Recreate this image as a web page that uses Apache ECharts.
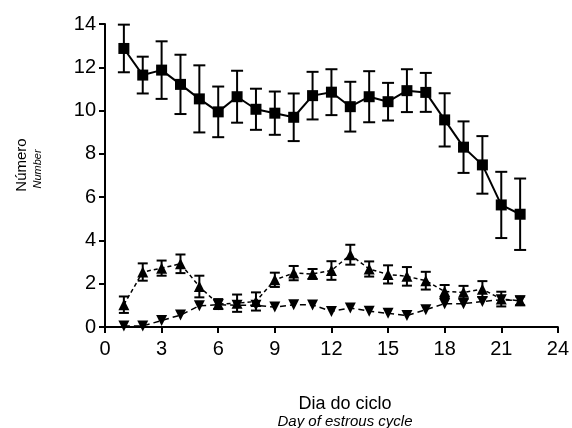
<!DOCTYPE html>
<html>
<head>
<meta charset="utf-8">
<script src="https://cdn.jsdelivr.net/npm/echarts@6/dist/echarts.min.js"></script>
<style>
html,body{margin:0;padding:0;background:#fff;}
#c{width:572px;height:428px;}
</style>
</head>
<body>
<div id="c"></div>
<script>
const days = [1,2,3,4,5,6,7,8,9,10,11,12,13,14,15,16,17,18,19,20,21,22];
const squareMean = [12.87,11.64,11.87,11.21,10.54,9.94,10.64,10.06,9.88,9.69,10.69,10.85,10.18,10.64,10.41,10.92,10.84,9.57,8.31,7.49,5.64,5.21];
const squareSem  = [1.10,0.85,1.33,1.37,1.55,1.17,1.20,0.95,1.00,1.10,1.10,1.06,1.15,1.18,0.87,0.99,0.90,1.23,1.19,1.33,1.53,1.65];
const upMean = [1.03,2.54,2.72,2.92,1.87,1.06,1.10,1.18,2.18,2.49,2.45,2.61,3.34,2.68,2.43,2.34,2.14,1.64,1.60,1.75,1.29,1.21];
const upSem  = [0.38,0.40,0.35,0.43,0.50,0.23,0.40,0.42,0.33,0.33,0.23,0.43,0.46,0.35,0.42,0.43,0.41,0.30,0.30,0.37,0.34,0.20];
const downMean = [0.05,0.05,0.30,0.55,0.98,1.03,1.00,1.00,0.92,1.03,1.02,0.72,0.88,0.73,0.63,0.53,0.80,1.08,1.08,1.18,1.26,1.21];
const xTicks = [0,3,6,9,12,15,18,21,24];
const yTicks = [0,2,4,6,8,10,12,14];

const FONT = "'Liberation Sans', Arial, sans-serif";

function pairs(m){ return days.map((d,i)=>[d,m[i]]); }
function errData(m,s){ return days.map((d,i)=>[d,m[i],s[i]]); }
function errSeries(m,s,cap,lw){
  return {
    type:'custom', z:3,
    data: errData(m,s),
    renderItem: function(params, api){
      const x = api.value(0), v = api.value(1), e = api.value(2);
      const top = api.coord([x, v+e]), bot = api.coord([x, v-e]);
      const st = {stroke:'#000', lineWidth:lw};
      return {type:'group', children:[
        {type:'line', shape:{x1:top[0],y1:top[1],x2:bot[0],y2:bot[1]}, style:st},
        {type:'line', shape:{x1:top[0]-cap,y1:top[1],x2:top[0]+cap,y2:top[1]}, style:st},
        {type:'line', shape:{x1:bot[0]-cap,y1:bot[1],x2:bot[0]+cap,y2:bot[1]}, style:st}
      ]};
    }
  };
}

const chart = echarts.init(document.getElementById('c'), null, {renderer:'canvas'});
chart.setOption({
  animation:false,
  backgroundColor:'#fff',
  grid:{left:105, right:13, top:24, bottom:101},
  xAxis:{
    type:'value', min:0, max:24, interval:3,
    axisLine:{show:true, lineStyle:{color:'#000', width:2}},
    axisTick:{show:true, length:6, lineStyle:{color:'#000', width:2}},
    axisLabel:{color:'#000', fontSize:20, fontFamily:FONT, margin:12,
      formatter:function(v){ return xTicks.indexOf(v)>=0 ? String(v) : ''; }},
    splitLine:{show:false}
  },
  yAxis:{
    type:'value', min:0, max:14, interval:2,
    axisLine:{show:true, lineStyle:{color:'#000', width:2}},
    axisTick:{show:true, length:6, lineStyle:{color:'#000', width:2}},
    axisLabel:{color:'#000', fontSize:20, fontFamily:FONT, margin:9,
      formatter:function(v){ return yTicks.indexOf(v)>=0 ? String(v) : ''; }},
    splitLine:{show:false}
  },
  graphic:[
    {type:'text', x:345, y:404, style:{text:'Dia do ciclo', font:'18px '+FONT, fill:'#000', align:'center', verticalAlign:'middle'}},
    {type:'text', x:345, y:422, style:{text:'Day of estrous cycle', font:'italic 15px '+FONT, fill:'#000', align:'center', verticalAlign:'middle'}},
    {type:'text', x:22, y:165, rotation:Math.PI/2, style:{text:'Número', font:'15px '+FONT, fill:'#000', align:'center', verticalAlign:'middle'}},
    {type:'text', x:38, y:169, rotation:Math.PI/2, style:{text:'Number', font:'italic 11px '+FONT, fill:'#000', align:'center', verticalAlign:'middle'}}
  ],
  series:[
    errSeries(squareMean, squareSem, 6, 2),
    errSeries(upMean, upSem, 5, 2),
    {type:'line', data:pairs(squareMean), symbol:'rect', symbolSize:11, z:4,
      itemStyle:{color:'#000'}, lineStyle:{color:'#000', width:2}},
    {type:'line', data:pairs(upMean), symbol:'triangle', symbolSize:11, z:4,
      itemStyle:{color:'#000'}, lineStyle:{color:'#000', width:1.5, type:[4,3]}},
    {type:'line', data:pairs(downMean), symbol:'triangle', symbolRotate:180, symbolSize:11, z:4,
      itemStyle:{color:'#000'}, lineStyle:{color:'#000', width:1.5, type:[6,4]}}
  ]
});
</script>
</body>
</html>
